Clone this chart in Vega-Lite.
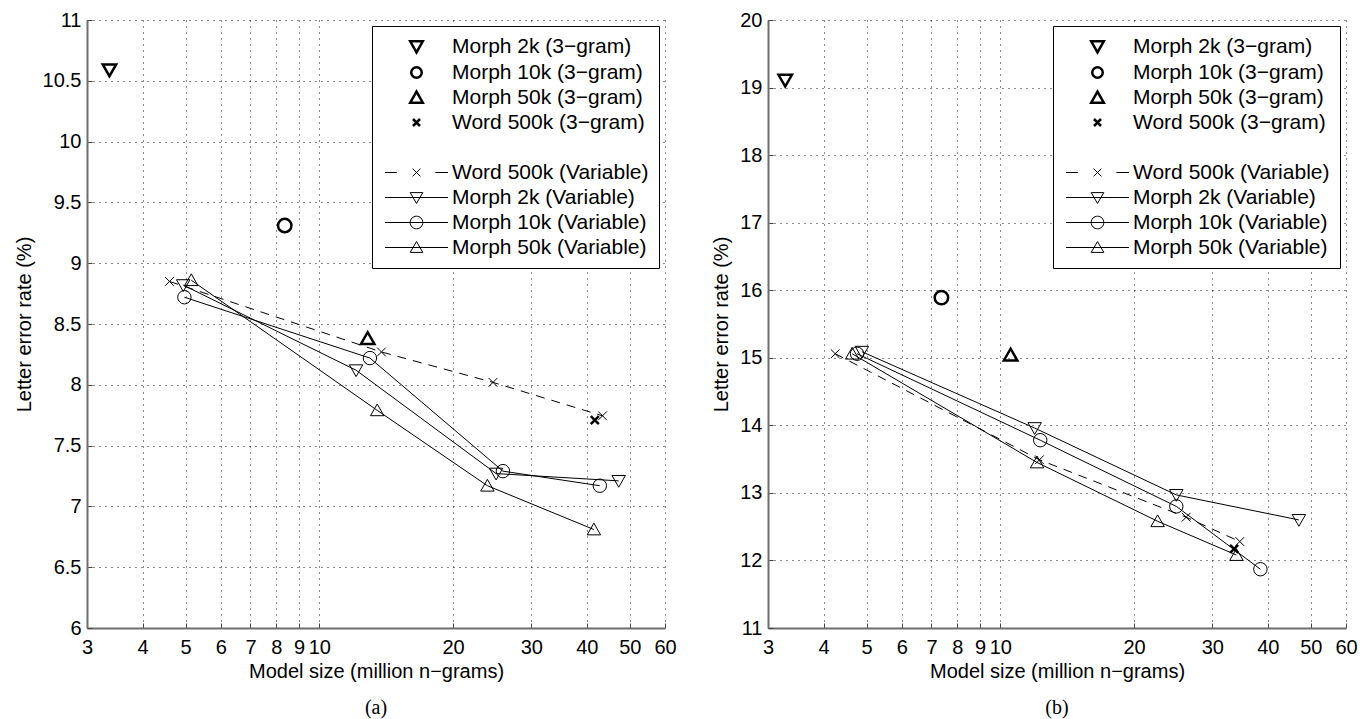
{
  "$schema": "https://vega.github.io/schema/vega-lite/v6.json",
  "background": "white",
  "padding": {"left": 14, "top": 10, "right": 5, "bottom": 5},
  "config": {
    "font": "Liberation Sans",
    "view": {"stroke": null},
    "concat": {"spacing": 34},
    "axis": {
      "labelFont": "Liberation Sans", "labelFontSize": 20, "labelColor": "#000",
      "titleFont": "Liberation Sans", "titleFontSize": 20, "titleFontWeight": "normal", "titleColor": "#000",
      "domainColor": "#6e6e6e", "domainWidth": 2,
      "tickColor": "#444", "tickSize": -5, "tickWidth": 1,
      "grid": true, "gridDash": [1, 5], "gridColor": "#000", "gridOpacity": 0.9,
      "labelOverlap": false, "labelFlush": false, "labelBound": false
    },
    "axisX": {"labelPadding": 14, "titlePadding": 4},
    "axisY": {"labelPadding": 11, "titlePadding": 8},
    "legend": {
      "orient": "top-right", "offset": 6, "title": null,
      "strokeColor": "#000", "fillColor": "white", "padding": 10, "cornerRadius": 0,
      "labelFont": "Liberation Sans", "labelFontSize": 21, "labelColor": "#000", "labelLimit": 400,
      "symbolSize": 196, "symbolStrokeColor": "#000", "symbolFillColor": "transparent",
      "rowPadding": 3, "symbolOffset": 24, "labelOffset": 25
    }
  },
  "datasets": {
    "pts": [
      {"panel": "a", "kind": "3-gram", "series": "Morph 2k (3−gram)", "size": 3.37, "ler": 10.59},
      {"panel": "a", "kind": "3-gram", "series": "Morph 10k (3−gram)", "size": 8.36, "ler": 9.31},
      {"panel": "a", "kind": "3-gram", "series": "Morph 50k (3−gram)", "size": 12.85, "ler": 8.38},
      {"panel": "a", "kind": "3-gram", "series": "Word 500k (3−gram)", "size": 41.7, "ler": 7.71},
      {"panel": "a", "kind": "Variable", "series": "Word 500k (Variable)", "size": 4.60, "ler": 8.85},
      {"panel": "a", "kind": "Variable", "series": "Word 500k (Variable)", "size": 13.8, "ler": 8.27},
      {"panel": "a", "kind": "Variable", "series": "Word 500k (Variable)", "size": 24.6, "ler": 8.02},
      {"panel": "a", "kind": "Variable", "series": "Word 500k (Variable)", "size": 43.4, "ler": 7.745},
      {"panel": "a", "kind": "Variable", "series": "Morph 2k (Variable)", "size": 4.94, "ler": 8.82},
      {"panel": "a", "kind": "Variable", "series": "Morph 2k (Variable)", "size": 12.1, "ler": 8.12},
      {"panel": "a", "kind": "Variable", "series": "Morph 2k (Variable)", "size": 25.0, "ler": 7.27},
      {"panel": "a", "kind": "Variable", "series": "Morph 2k (Variable)", "size": 47.2, "ler": 7.21},
      {"panel": "a", "kind": "Variable", "series": "Morph 10k (Variable)", "size": 4.97, "ler": 8.72},
      {"panel": "a", "kind": "Variable", "series": "Morph 10k (Variable)", "size": 13.0, "ler": 8.22},
      {"panel": "a", "kind": "Variable", "series": "Morph 10k (Variable)", "size": 25.9, "ler": 7.29},
      {"panel": "a", "kind": "Variable", "series": "Morph 10k (Variable)", "size": 42.8, "ler": 7.17},
      {"panel": "a", "kind": "Variable", "series": "Morph 50k (Variable)", "size": 5.15, "ler": 8.86},
      {"panel": "a", "kind": "Variable", "series": "Morph 50k (Variable)", "size": 13.5, "ler": 7.79},
      {"panel": "a", "kind": "Variable", "series": "Morph 50k (Variable)", "size": 23.9, "ler": 7.17},
      {"panel": "a", "kind": "Variable", "series": "Morph 50k (Variable)", "size": 41.5, "ler": 6.81},
      {"panel": "b", "kind": "3-gram", "series": "Morph 2k (3−gram)", "size": 3.28, "ler": 19.11},
      {"panel": "b", "kind": "3-gram", "series": "Morph 10k (3−gram)", "size": 7.37, "ler": 15.89},
      {"panel": "b", "kind": "3-gram", "series": "Morph 50k (3−gram)", "size": 10.55, "ler": 15.04},
      {"panel": "b", "kind": "3-gram", "series": "Word 500k (3−gram)", "size": 33.6, "ler": 12.17},
      {"panel": "b", "kind": "Variable", "series": "Word 500k (Variable)", "size": 4.25, "ler": 15.06},
      {"panel": "b", "kind": "Variable", "series": "Word 500k (Variable)", "size": 12.25, "ler": 13.49},
      {"panel": "b", "kind": "Variable", "series": "Word 500k (Variable)", "size": 26.2, "ler": 12.64},
      {"panel": "b", "kind": "Variable", "series": "Word 500k (Variable)", "size": 34.6, "ler": 12.28},
      {"panel": "b", "kind": "Variable", "series": "Morph 2k (Variable)", "size": 4.88, "ler": 15.09},
      {"panel": "b", "kind": "Variable", "series": "Morph 2k (Variable)", "size": 11.95, "ler": 13.96},
      {"panel": "b", "kind": "Variable", "series": "Morph 2k (Variable)", "size": 24.9, "ler": 12.97},
      {"panel": "b", "kind": "Variable", "series": "Morph 2k (Variable)", "size": 47.0, "ler": 12.60},
      {"panel": "b", "kind": "Variable", "series": "Morph 10k (Variable)", "size": 4.76, "ler": 15.06},
      {"panel": "b", "kind": "Variable", "series": "Morph 10k (Variable)", "size": 12.3, "ler": 13.78},
      {"panel": "b", "kind": "Variable", "series": "Morph 10k (Variable)", "size": 24.9, "ler": 12.80},
      {"panel": "b", "kind": "Variable", "series": "Morph 10k (Variable)", "size": 38.5, "ler": 11.87},
      {"panel": "b", "kind": "Variable", "series": "Morph 50k (Variable)", "size": 4.64, "ler": 15.06},
      {"panel": "b", "kind": "Variable", "series": "Morph 50k (Variable)", "size": 12.1, "ler": 13.45},
      {"panel": "b", "kind": "Variable", "series": "Morph 50k (Variable)", "size": 22.6, "ler": 12.58},
      {"panel": "b", "kind": "Variable", "series": "Morph 50k (Variable)", "size": 34.0, "ler": 12.08}
    ]
  },
  "resolve": {"scale": {"shape": "independent", "strokeWidth": "independent"}, "legend": {"shape": "independent", "strokeWidth": "independent"}},
  "hconcat": [
    {
      "width": 578, "height": 608,
      "title": {"text": "(a)", "orient": "bottom", "font": "Liberation Serif", "fontSize": 20, "fontWeight": "normal", "color": "#000", "offset": 17},
      "data": {"name": "pts"},
      "transform": [{"filter": "datum.panel == 'a'"}],
      "encoding": {
        "x": {"field": "size", "type": "quantitative", "scale": {"type": "log", "domain": [3, 60], "nice": false},
              "axis": {"title": "Model size (million n−grams)", "values": [3,4,5,6,7,8,9,10,20,30,40,50,60], "format": "d"}},
        "y": {"field": "ler", "type": "quantitative", "scale": {"domain": [6, 11], "nice": false, "zero": false},
              "axis": {"title": "Letter error rate (%)", "values": [6,6.5,7,7.5,8,8.5,9,9.5,10,10.5,11], "format": ".1~f"}}
      },
      "resolve": {"scale": {"shape": "independent", "strokeWidth": "independent"}, "legend": {"shape": "independent", "strokeWidth": "independent"}},
      "layer": [
        {"transform": [{"filter": "datum.kind == 'Variable' && datum.series != 'Word 500k (Variable)'"}],
         "mark": {"type": "line", "color": "#000", "strokeWidth": 1}, "encoding": {"detail": {"field": "series"}}},
        {"transform": [{"filter": "datum.series == 'Word 500k (Variable)'"}],
         "mark": {"type": "line", "color": "#000", "strokeWidth": 1, "strokeDash": [9, 7]}, "encoding": {}},
        {"transform": [{"filter": "datum.kind == 'Variable'"}],
         "mark": {"type": "point", "filled": false, "color": "#000", "strokeWidth": 1, "size": 180, "opacity": 1},
         "encoding": {"shape": {"field": "series", "type": "nominal", "legend": null,
           "scale": {"domain": ["Word 500k (Variable)", "Morph 2k (Variable)", "Morph 10k (Variable)", "Morph 50k (Variable)"],
                     "range": ["M-0.65,-0.65L0.65,0.65M-0.65,0.65L0.65,-0.65", "M-1,-0.8L1,-0.8L0,0.95Z", "circle", "M-1,0.8L1,0.8L0,-0.95Z"]}}}},
        {"transform": [{"filter": "datum.kind == '3-gram'"}],
         "mark": {"type": "point", "filled": false, "color": "#000", "strokeWidth": 2.5, "size": 180, "opacity": 1},
         "encoding": {"shape": {"field": "series", "type": "nominal", "legend": null,
           "scale": {"domain": ["Morph 2k (3−gram)", "Morph 10k (3−gram)", "Morph 50k (3−gram)", "Word 500k (3−gram)"],
                     "range": ["M-1,-0.8L1,-0.8L0,0.95Z", "circle", "M-1,0.8L1,0.8L0,-0.95Z", "M-0.6,-0.6L0.6,0.6M-0.6,0.6L0.6,-0.6"]}}}},
        {"mark": {"type": "point", "filled": false, "color": "#000", "opacity": 0},
         "encoding": {
           "shape": {"field": "series", "type": "nominal",
             "scale": {"domain": ["Morph 2k (3−gram)", "Morph 10k (3−gram)", "Morph 50k (3−gram)", "Word 500k (3−gram)", " ", "Word 500k (Variable)", "Morph 2k (Variable)", "Morph 10k (Variable)", "Morph 50k (Variable)"],
                       "range": ["M-0.9,-0.75L0.9,-0.75L0,0.85Z", "M0.75,0A0.75,0.75,0,1,1,-0.75,0A0.75,0.75,0,1,1,0.75,0Z", "M-0.9,0.75L0.9,0.75L0,-0.85Z", "M-0.5,-0.5L0.5,0.5M-0.5,0.5L0.5,-0.5", "M0,0", "M-4.5,0L-2.8,0M2.7,0L4.5,0M-0.55,-0.55L0.55,0.55M-0.55,0.55L0.55,-0.55", "M-4.5,0L4.5,0M-0.9,-0.7L0.9,-0.7L0,0.85Z", "M-4.5,0L4.5,0M0.9,0A0.9,0.9,0,1,1,-0.9,0A0.9,0.9,0,1,1,0.9,0Z", "M-4.5,0L4.5,0M-0.9,0.7L0.9,0.7L0,-0.85Z"]}},
           "strokeWidth": {"field": "series", "type": "nominal",
             "scale": {"type": "ordinal", "domain": ["Morph 2k (3−gram)", "Morph 10k (3−gram)", "Morph 50k (3−gram)", "Word 500k (3−gram)", " ", "Word 500k (Variable)", "Morph 2k (Variable)", "Morph 10k (Variable)", "Morph 50k (Variable)"],
                       "range": [2.5, 2.5, 2.5, 2.5, 1, 1, 1, 1, 1]}}
         }}
      ]
    },
    {
      "width": 578, "height": 608,
      "title": {"text": "(b)", "orient": "bottom", "font": "Liberation Serif", "fontSize": 20, "fontWeight": "normal", "color": "#000", "offset": 17},
      "data": {"name": "pts"},
      "transform": [{"filter": "datum.panel == 'b'"}],
      "encoding": {
        "x": {"field": "size", "type": "quantitative", "scale": {"type": "log", "domain": [3, 60], "nice": false},
              "axis": {"title": "Model size (million n−grams)", "values": [3,4,5,6,7,8,9,10,20,30,40,50,60], "format": "d"}},
        "y": {"field": "ler", "type": "quantitative", "scale": {"domain": [11, 20], "nice": false, "zero": false},
              "axis": {"title": "Letter error rate (%)", "values": [11,12,13,14,15,16,17,18,19,20], "format": "d"}}
      },
      "resolve": {"scale": {"shape": "independent", "strokeWidth": "independent"}, "legend": {"shape": "independent", "strokeWidth": "independent"}},
      "layer": [
        {"transform": [{"filter": "datum.kind == 'Variable' && datum.series != 'Word 500k (Variable)'"}],
         "mark": {"type": "line", "color": "#000", "strokeWidth": 1}, "encoding": {"detail": {"field": "series"}}},
        {"transform": [{"filter": "datum.series == 'Word 500k (Variable)'"}],
         "mark": {"type": "line", "color": "#000", "strokeWidth": 1, "strokeDash": [9, 7]}, "encoding": {}},
        {"transform": [{"filter": "datum.kind == 'Variable'"}],
         "mark": {"type": "point", "filled": false, "color": "#000", "strokeWidth": 1, "size": 180, "opacity": 1},
         "encoding": {"shape": {"field": "series", "type": "nominal", "legend": null,
           "scale": {"domain": ["Word 500k (Variable)", "Morph 2k (Variable)", "Morph 10k (Variable)", "Morph 50k (Variable)"],
                     "range": ["M-0.65,-0.65L0.65,0.65M-0.65,0.65L0.65,-0.65", "M-1,-0.8L1,-0.8L0,0.95Z", "circle", "M-1,0.8L1,0.8L0,-0.95Z"]}}}},
        {"transform": [{"filter": "datum.kind == '3-gram'"}],
         "mark": {"type": "point", "filled": false, "color": "#000", "strokeWidth": 2.5, "size": 180, "opacity": 1},
         "encoding": {"shape": {"field": "series", "type": "nominal", "legend": null,
           "scale": {"domain": ["Morph 2k (3−gram)", "Morph 10k (3−gram)", "Morph 50k (3−gram)", "Word 500k (3−gram)"],
                     "range": ["M-1,-0.8L1,-0.8L0,0.95Z", "circle", "M-1,0.8L1,0.8L0,-0.95Z", "M-0.6,-0.6L0.6,0.6M-0.6,0.6L0.6,-0.6"]}}}},
        {"mark": {"type": "point", "filled": false, "color": "#000", "opacity": 0},
         "encoding": {
           "shape": {"field": "series", "type": "nominal",
             "scale": {"domain": ["Morph 2k (3−gram)", "Morph 10k (3−gram)", "Morph 50k (3−gram)", "Word 500k (3−gram)", " ", "Word 500k (Variable)", "Morph 2k (Variable)", "Morph 10k (Variable)", "Morph 50k (Variable)"],
                       "range": ["M-0.9,-0.75L0.9,-0.75L0,0.85Z", "M0.75,0A0.75,0.75,0,1,1,-0.75,0A0.75,0.75,0,1,1,0.75,0Z", "M-0.9,0.75L0.9,0.75L0,-0.85Z", "M-0.5,-0.5L0.5,0.5M-0.5,0.5L0.5,-0.5", "M0,0", "M-4.5,0L-2.8,0M2.7,0L4.5,0M-0.55,-0.55L0.55,0.55M-0.55,0.55L0.55,-0.55", "M-4.5,0L4.5,0M-0.9,-0.7L0.9,-0.7L0,0.85Z", "M-4.5,0L4.5,0M0.9,0A0.9,0.9,0,1,1,-0.9,0A0.9,0.9,0,1,1,0.9,0Z", "M-4.5,0L4.5,0M-0.9,0.7L0.9,0.7L0,-0.85Z"]}},
           "strokeWidth": {"field": "series", "type": "nominal",
             "scale": {"type": "ordinal", "domain": ["Morph 2k (3−gram)", "Morph 10k (3−gram)", "Morph 50k (3−gram)", "Word 500k (3−gram)", " ", "Word 500k (Variable)", "Morph 2k (Variable)", "Morph 10k (Variable)", "Morph 50k (Variable)"],
                       "range": [2.5, 2.5, 2.5, 2.5, 1, 1, 1, 1, 1]}}
         }}
      ]
    }
  ]
}
